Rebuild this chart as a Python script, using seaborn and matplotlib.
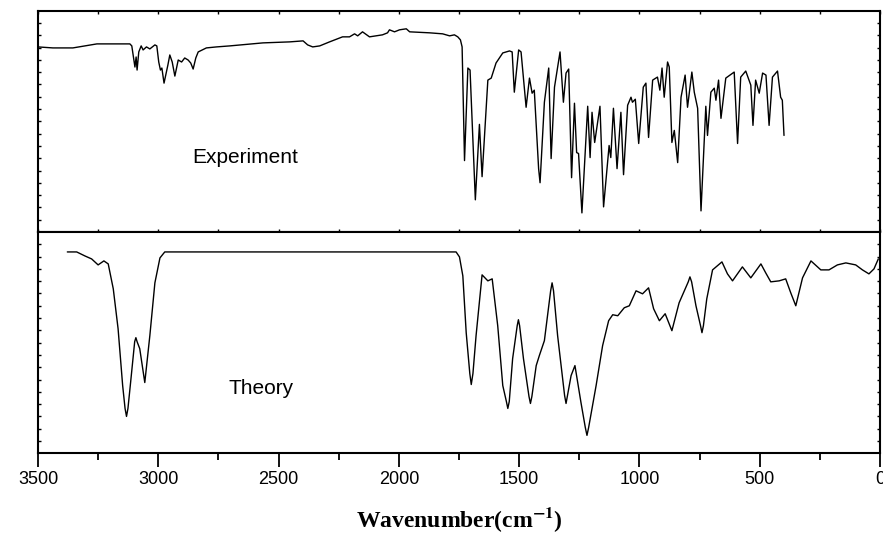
import seaborn as sns
import matplotlib.pyplot as plt
from matplotlib.ticker import MultipleLocator
import numpy as np

# Experimental IR spectrum (wavenumber, transmittance in arbitrary units)
exp_wn = [3500, 3438, 3355, 3255, 3118, 3110, 3097, 3092, 3088, 3081, 3071, 3063, 3049, 3035,
          3014, 3006, 2998, 2991, 2985, 2976, 2960, 2952, 2942, 2931, 2917, 2903, 2890, 2876,
          2865, 2855, 2844, 2834, 2800, 2758, 2703, 2565, 2454, 2398, 2379, 2358, 2329, 2288,
          2234, 2205, 2184, 2171, 2151, 2122, 2068, 2047, 2039, 2018, 1997, 1969, 1955, 1872,
          1818, 1789, 1769, 1755, 1744, 1737, 1727, 1713, 1704, 1682, 1665, 1654, 1630, 1616,
          1596, 1568, 1540, 1529, 1520, 1502, 1492, 1471, 1457, 1446, 1437, 1419, 1413, 1395,
          1377, 1367, 1353, 1330, 1316, 1305, 1294, 1282, 1270, 1261, 1253, 1239, 1215, 1205,
          1197, 1186, 1164, 1149, 1126, 1119, 1108, 1093, 1077, 1066, 1049, 1035, 1029, 1017,
          1003, 984, 973, 962, 945, 925, 915, 906, 897, 883, 876, 865, 855, 841, 827, 810, 800,
          782, 772, 758, 744, 724, 717, 703, 689, 682, 671, 661, 641, 606, 592, 579, 558, 537,
          528, 517, 502, 488, 474, 461, 447, 426, 413, 406, 399]
exp_val = [184, 183, 183, 187, 187, 185, 164, 174, 161, 179, 185, 181, 184, 182,
           186, 185, 169, 161, 163, 148, 166, 176, 169, 155, 171, 169, 173, 171,
           168, 162, 173, 179, 183, 184, 185, 188, 189, 190, 186, 184, 185, 189,
           194, 194, 197, 195, 199, 194, 196, 198, 201, 199, 201, 202, 199, 198,
           197, 195, 196, 194, 191, 184, 71, 163, 161, 32, 107, 55, 151, 153,
           168, 178, 180, 179, 139, 181, 179, 124, 153, 138, 141, 63, 49, 129,
           163, 73, 144, 179, 129, 158, 162, 54, 128, 79, 78, 19, 125, 74,
           119, 89, 125, 25, 86, 74, 123, 63, 119, 57, 126, 134, 129, 132,
           88, 144, 148, 94, 151, 154, 141, 163, 134, 169, 164, 89, 101, 69, 134, 156, 124,
           159, 139, 123, 21, 125, 96, 139, 143, 131, 151, 113, 153, 159, 88, 154, 160, 146,
           106, 151, 138, 158, 156, 106, 154, 160, 134, 131, 96]

# Calculated IR spectrum (wavenumber, transmittance in arbitrary units)
th_wn = [3378, 3339, 3305, 3277, 3250, 3226, 3208, 3187, 3167, 3148, 3138, 3132, 3126, 3115,
         3098, 3093, 3088, 3077, 3056, 3035, 3014, 2993, 2973, 1762, 1748, 1734, 1720, 1705,
         1699, 1692, 1679, 1654, 1630, 1612, 1589, 1568, 1553, 1547, 1541, 1527, 1508, 1503,
         1498, 1482, 1459, 1453, 1447, 1429, 1416, 1395, 1369, 1363, 1357, 1340, 1311, 1305,
         1299, 1284, 1268, 1243, 1225, 1218, 1211, 1180, 1153, 1128, 1111, 1090, 1063, 1042,
         1014, 987, 962, 941, 917, 893, 865, 835, 797, 790, 783, 765, 746, 740, 734, 720, 696,
         657, 634, 613, 572, 537, 495, 475, 454, 419, 392, 371, 350, 322, 287, 246, 212, 177,
         142, 101, 73, 46, 25, 7]
th_val = [202, 202, 198, 195, 189, 193, 190, 165, 125, 68, 45, 37, 45, 71,
          112, 116, 112, 105, 71, 118, 171, 196, 202, 202, 197, 178, 121, 80,
          69, 80, 118, 179, 173, 175, 128, 68, 52, 45, 52, 95, 128, 134,
          128, 95, 57, 50, 57, 88, 98, 113, 163, 171, 163, 118, 58, 50,
          58, 78, 88, 51, 26, 18, 26, 68, 108, 133, 139, 138, 146, 148,
          163, 160, 166, 145, 133, 140, 123, 151, 172, 177, 172, 148, 128, 121, 128, 155, 184,
          192, 180, 173, 187, 176, 190, 181, 172, 173, 175, 161, 148, 176, 193, 184, 184, 189,
          191, 189, 184, 180, 185, 195]

sns.set_style('ticks')
plt.rcParams['font.family'] = ['Liberation Sans', 'DejaVu Sans']
plt.rcParams['mathtext.fontset'] = 'stix'
plt.rcParams['text.color'] = 'black'
plt.rcParams['axes.labelcolor'] = 'black'
plt.rcParams['xtick.color'] = 'black'
plt.rcParams['ytick.color'] = 'black'

fig, (ax1, ax2) = plt.subplots(2, 1, figsize=(8.83, 5.35), dpi=100, sharex=True)
fig.subplots_adjust(left=0.043, right=0.9966, top=0.980, bottom=0.1527, hspace=0)

sns.lineplot(x=exp_wn, y=exp_val, ax=ax1, color='black', lw=1.0, estimator=None, sort=False)
sns.lineplot(x=th_wn, y=th_val, ax=ax2, color='black', lw=1.0, estimator=None, sort=False)

ax1.set_ylim(0, 220)
ax2.set_ylim(0, 222)
ax2.set_xlim(3500, 0)

for ax in (ax1, ax2):
    for s in ax.spines.values():
        s.set_linewidth(1.5)
        s.set_color('black')
    ax.set_yticks(np.linspace(ax.get_ylim()[0], ax.get_ylim()[1], 19)[1:-1])
    ax.tick_params(axis='y', which='both', direction='in', length=2.5, width=1.0,
                   left=True, right=True, labelleft=False)
    ax.xaxis.set_major_locator(MultipleLocator(500))
    ax.xaxis.set_minor_locator(MultipleLocator(250))

ax1.tick_params(axis='x', which='both', direction='in', length=2, width=1.0,
                top=True, bottom=True, labelbottom=False)
ax2.xaxis.set_ticks_position('bottom')
ax2.tick_params(axis='x', which='major', direction='out', length=10, width=1.3,
                labelsize=13, pad=3, labelcolor='black')
ax2.tick_params(axis='x', which='minor', direction='out', length=5, width=1.3)

ax1.text(0.246, 0.336, 'Experiment', transform=ax1.transAxes, ha='center', va='center',
         fontsize=15, color='black')
ax2.text(0.265, 0.293, 'Theory', transform=ax2.transAxes, ha='center', va='center',
         fontsize=15, color='black')

ax2.set_xlabel('Wavenumber(cm$^{\\mathbf{-1}}$)', fontsize=17, fontweight='bold',
               family='Liberation Serif', labelpad=12, color='black')
ax1.set_ylabel('')
ax2.set_ylabel('')

fig.savefig('out.png', dpi=100)
